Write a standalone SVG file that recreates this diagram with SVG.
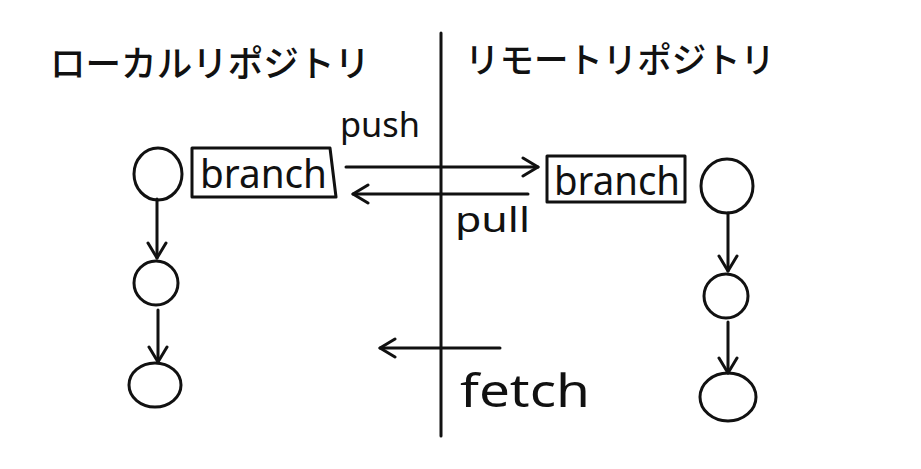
<svg xmlns="http://www.w3.org/2000/svg" width="921" height="469" viewBox="0 0 921 469">
<style>
.s{fill:none;stroke:#111;stroke-width:3;stroke-linecap:round;stroke-linejoin:round}
.t{font-family:"Noto Sans","Liberation Sans",sans-serif;fill:#111}
.j{font-family:"Noto Sans CJK JP",sans-serif;fill:#111;font-weight:500}
</style>
<defs>
<marker id="ah" viewBox="0 0 22 22" refX="18" refY="11" markerWidth="22" markerHeight="22" markerUnits="userSpaceOnUse" orient="auto">
<path d="M3 2 L18 11 L3 20" fill="none" stroke="#111" stroke-width="3" stroke-linecap="round" stroke-linejoin="round"/>
</marker>
</defs>
<g id="titles">
<text class="j" x="50" y="77" font-size="36" textLength="320" lengthAdjust="spacingAndGlyphs">ローカルリポジトリ</text>
<text class="j" x="465" y="73" font-size="35" textLength="310" lengthAdjust="spacingAndGlyphs">リモートリポジトリ</text>
</g>
<g id="divider"><line class="s" x1="441" y1="33" x2="441" y2="436"/></g>
<g id="local-branch">
<path class="s" d="M192 148 L330 148 L336 197 L192 197 Z"/>
<text class="t" x="200" y="188" font-size="40" textLength="127" lengthAdjust="spacingAndGlyphs">branch</text>
</g>
<g id="remote-branch">
<rect class="s" x="547" y="156" width="138" height="46"/>
<text class="t" x="554" y="195" font-size="40" textLength="126" lengthAdjust="spacingAndGlyphs">branch</text>
</g>
<g id="lc1"><ellipse class="s" cx="158" cy="174" rx="24" ry="26"/></g>
<g id="lc2"><ellipse class="s" cx="156" cy="283" rx="22" ry="22"/></g>
<g id="lc3"><ellipse class="s" cx="155" cy="385" rx="26" ry="22"/></g>
<g id="rc1"><ellipse class="s" cx="727" cy="186" rx="26" ry="27"/></g>
<g id="rc2"><ellipse class="s" cx="726" cy="296" rx="22" ry="22"/></g>
<g id="rc3"><ellipse class="s" cx="728" cy="397" rx="28" ry="24"/></g>
<g id="connectors">
<line class="s" x1="157" y1="199" x2="157" y2="258" marker-end="url(#ah)"/>
<line class="s" x1="158" y1="310" x2="158" y2="362" marker-end="url(#ah)"/>
<line class="s" x1="728" y1="213" x2="728" y2="271" marker-end="url(#ah)"/>
<line class="s" x1="728" y1="322" x2="728" y2="373" marker-end="url(#ah)"/>
<line class="s" x1="346" y1="167" x2="538" y2="167" marker-end="url(#ah)"/>
<line class="s" x1="528" y1="194" x2="353" y2="194" marker-end="url(#ah)"/>
<line class="s" x1="500" y1="348" x2="380" y2="348" marker-end="url(#ah)"/>
</g>
<g id="labels">
<text class="t" x="340" y="137" font-size="34" textLength="80" lengthAdjust="spacingAndGlyphs">push</text>
<text class="t" x="455" y="232" font-size="34" textLength="75" lengthAdjust="spacingAndGlyphs">pull</text>
<text class="t" x="460" y="407" font-size="46" textLength="130" lengthAdjust="spacingAndGlyphs">fetch</text>
</g>
</svg>
